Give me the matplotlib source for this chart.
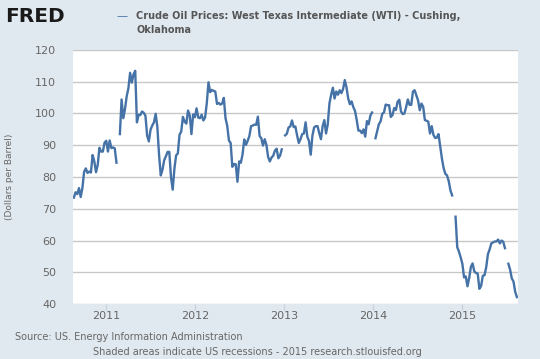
import numpy as np
import pandas as pd
import matplotlib
matplotlib.use("Agg")
import matplotlib.pyplot as plt
import matplotlib.dates as mdates

nan = np.nan

# weekly (Friday) readings of WTI spot price, dollars per barrel
wti_2010 = [73.5, 75.2,
            74.6, 76.5, 73.7, 76.5,
            81.6, 82.7, 81.3, 81.7, 81.4,
            86.9, 84.9, 81.5, 83.8,
            89.2, 88.0, 88.0, 90.8, 91.4]
wti_2011 = [88.0, 91.5, 89.1, 89.3,
            89.0, 84.5, nan, 93.5,
            104.4, 98.5, 101.4, 105.4,
            107.9, 112.8, 109.7, 112.3, 113.4,
            97.2, 99.6, 99.5, 100.6,
            100.2, 99.3, 93.0, 91.2,
            94.9, 96.2, 97.2, 99.9, 95.7,
            86.9, 80.5, 82.3, 85.3,
            86.5, 87.9, 87.9, 79.9, 76.0,
            82.6, 86.8, 87.4, 93.3,
            94.3, 98.9, 97.4, 96.8,
            100.9, 99.4, 93.5, 99.7, 98.8]
wti_2012 = [101.6, 98.7, 98.5, 99.6,
            97.8, 98.7, 103.2, 109.8,
            106.7, 107.4, 107.1, 106.9, 103.0,
            103.3, 102.8, 103.1, 104.9,
            98.5, 96.1, 91.5, 90.7,
            83.2, 84.1, 84.0, 78.5, 84.9,
            84.5, 87.1, 91.8, 90.1,
            91.4, 92.9, 96.0, 96.2, 96.5,
            96.4, 99.0, 92.9, 92.2,
            89.9, 91.9, 90.1, 86.3,
            84.9, 86.1, 86.7, 88.3, 88.9,
            85.9, 86.7, 88.7, nan]
wti_2013 = [93.1, 93.6, 95.6, 95.9,
            97.8, 95.7, 95.9, 93.1,
            90.7, 91.9, 93.5, 93.7, 97.2,
            92.7, 91.3, 87.0, 93.0,
            95.6, 96.0, 96.0, 93.8, 91.9,
            96.0, 97.9, 93.7, 96.6,
            103.2, 105.9, 108.1, 104.7,
            106.9, 105.9, 107.3, 106.4, 107.7,
            110.5, 108.2, 104.7, 102.9,
            103.8, 102.0, 100.8, 97.9,
            94.6, 94.6, 93.8, 95.0, 92.7,
            97.6, 96.6, 99.3, 100.3]
wti_2014 = [nan, 92.2, 94.4, 96.6, 97.5,
            99.9, 100.3, 102.8, 102.6,
            102.6, 98.9, 99.5, 101.7,
            101.1, 103.7, 104.3, 100.6,
            99.8, 100.0, 102.0, 104.4, 102.7,
            102.7, 106.9, 107.3, 105.7,
            104.1, 101.0, 103.1, 102.1,
            97.9, 97.7, 97.4, 93.7, 96.0,
            93.3, 92.3, 92.4, 93.5,
            89.7, 85.8, 82.8, 81.0, 80.5,
            78.7, 75.8, 74.2, nan,
            67.5, 57.9, 56.5, 54.7]
wti_2015 = [52.7, 48.4, 48.7, 45.6, 48.2,
            51.7, 52.8, 50.3, 49.8,
            49.6, 44.8, 45.7, 48.9,
            49.1, 51.6, 55.7, 57.2,
            59.1, 59.4, 59.7, 59.7, 60.3,
            59.1, 60.0, 59.6, 57.6,
            nan, 52.7, 50.9, 48.1, 47.1,
            43.9, 42.2]

values = wti_2010 + wti_2011 + wti_2012 + wti_2013 + wti_2014 + wti_2015
dates = pd.date_range("2010-08-20", periods=len(values), freq="7D")

y_ticks = [40, 50, 60, 70, 80, 90, 100, 110, 120]
year_ticks = ["2011-01-01", "2012-01-01", "2013-01-01", "2014-01-01", "2015-01-01"]

bg = "#E1E9F0"
line_color = "#4572A7"
text_color = "#666666"

fig = plt.figure(figsize=(5.4, 3.59), dpi=100, facecolor=bg)
ax = fig.add_axes([0.135, 0.153, 0.824, 0.708])
ax.set_facecolor("white")

ax.plot(dates, values, color=line_color, lw=1.7)

ax.set_ylim(40, 120)
ax.set_yticks(y_ticks)
ax.set_xlim(pd.Timestamp("2010-08-16"), pd.Timestamp("2015-08-18"))
ax.set_xticks(pd.to_datetime(year_ticks))
ax.xaxis.set_major_formatter(mdates.DateFormatter("%Y"))

ax.grid(axis="y", color="#C8C8C8", lw=1)
ax.set_axisbelow(True)
for s in ax.spines.values():
    s.set_visible(False)

ax.tick_params(axis="y", length=0, pad=12, labelsize=8, labelcolor=text_color)
ax.tick_params(axis="x", length=4, width=1, color="#C8D2DC", pad=1,
               labelsize=8, labelcolor=text_color)

ax.set_ylabel("(Dollars per Barrel)", fontsize=6.5, color=text_color, labelpad=15)

# header
fig.text(0.009, 0.955, "FRED", fontsize=14.5, fontweight="bold", color="#1a1a1a",
         va="center", ha="left")
fig.text(0.215, 0.955, "\u2014", fontsize=8, color=line_color, va="center")
fig.text(0.252, 0.955, "Crude Oil Prices: West Texas Intermediate (WTI) - Cushing,",
         fontsize=7, fontweight="bold", color="#555555", va="center")
fig.text(0.252, 0.916, "Oklahoma", fontsize=7, fontweight="bold", color="#555555",
         va="center")

# footer
fig.text(0.028, 0.062, "Source: US. Energy Information Administration",
         fontsize=7, color=text_color, va="center")
fig.text(0.172, 0.020, "Shaded areas indicate US recessions - 2015 research.stlouisfed.org",
         fontsize=7, color=text_color, va="center")

fig.savefig("out.png", dpi=100, facecolor=bg)
